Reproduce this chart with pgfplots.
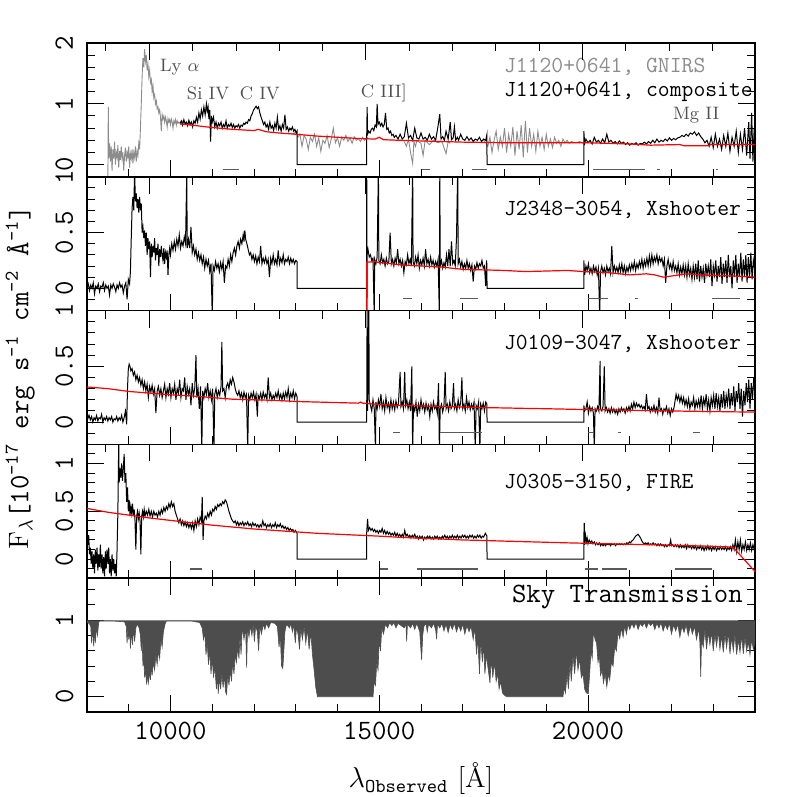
\documentclass[border=0pt]{standalone}
\usepackage{pgfplots}
\pgfplotsset{compat=1.18}
\definecolor{gnirs}{HTML}{8C8C8C}
\definecolor{skyc}{HTML}{4D4D4D}
\definecolor{dashc}{HTML}{5A5A5A}
\definecolor{lblc}{HTML}{505050}
\newcommand\tfont{\fontsize{11.5}{11.5}\selectfont\ttfamily}
\newcommand\lfont{\fontsize{9}{9}\selectfont\rmfamily}
\pgfplotsset{
 panel/.style={
  scale only axis, width=334pt, height=66.9pt,
  xmin=8000, xmax=24000,
  xtick={10000,15000,20000},
  minor xtick={9000,11000,12000,13000,14000,16000,17000,18000,19000,21000,22000,23000},
  xticklabels={},
  tick align=inside,
  major tick length=8.5pt, minor tick length=4pt,
  tick style={black, line width=0.5pt},
  axis line style={line width=0.8pt},
  ticklabel style={font=\fontsize{14}{14}\selectfont\ttfamily},
  yticklabel style={rotate=90, anchor=base, inner sep=0pt},
  yticklabel shift=7pt,
  /pgf/number format/assume math mode=true,
  /pgf/number format/1000 sep={},
  scaled ticks=false,
  clip mode=individual,
  unbounded coords=jump,
  no markers,
 },
 topticks/.style={
  scale only axis, width=334pt, height=66.9pt,
  xmin=8000, xmax=24000, ymin=0, ymax=1,
  axis x line*=top, axis y line=none,
  xtick={9492,14682,19872},
  minor xtick={8455,10531,11569,12606,13645,15719,16758,17796,18833,20909,21946,22985},
  xticklabels={}, scaled ticks=false, scaled x ticks=false,
  tick align=inside,
  major tick length=8.5pt, minor tick length=4pt,
  tick style={black, line width=0.5pt},
  axis line style={line width=0.8pt},
 },
 spec/.style={black, line width=0.5pt},
 model/.style={red, line width=0.6pt},
 dash/.style={dashc, line width=0.7pt},
}
\begin{document}
\begin{tikzpicture}
\useasboundingbox (-43.5pt,-377pt) rectangle (355pt,21.5pt);
% ---------------- Panel 1 : J1120+0641
\begin{axis}[panel, xtick pos=bottom, at={(0,0)}, anchor=north west, ymin=-0.2, ymax=2, ytick={0,1,2},
  minor ytick={-0.2,0.2,0.4,0.6,0.8,1.2,1.4,1.6,1.8}]
\addplot[gnirs, line width=0.45pt] coordinates {
(8500,-0.2)(8510,0.95)(8520,0.1)(8540,0.35)(8560,0.05)(8580,0.3)(8600,-0.1)(8620,0.25)(8640,0.1)(8660,0.38)(8680,0.0)(8700,0.2)(8720,0.12)(8740,0.32)(8760,-0.05)(8780,0.22)(8800,0.08)(8820,0.3)(8840,0.1)(8860,0.2)(8880,-0.1)(8900,0.15)(8920,0.28)(8940,0.05)(8960,0.2)(8980,0.12)(9000,0.3)(9020,-0.05)(9040,0.18)(9060,0.1)(9080,0.25)(9100,0.02)(9120,0.2)(9140,0.12)(9160,0.3)(9180,0.05)(9200,0.22)(9220,0.15)(9240,0.35)(9260,0.25)(9280,0.6)(9300,1.0)(9320,1.45)(9340,1.75)(9360,1.6)(9380,1.9)(9400,1.7)(9420,1.8)(9440,1.55)(9460,1.65)(9480,1.45)(9500,1.55)(9520,1.35)(9540,1.4)(9560,1.2)(9580,1.3)(9600,1.1)(9620,1.15)(9640,1.0)(9660,1.05)(9680,0.92)(9700,0.95)(9720,0.85)(9740,0.9)(9760,0.78)(9780,0.55)(9800,0.82)(9820,0.75)(9840,0.8)(9860,0.7)(9880,0.78)(9900,0.72)(9920,0.62)(9940,0.76)(9960,0.7)(9980,0.74)(10000,0.66)(10020,0.75)(10040,0.7)(10060,0.6)(10080,0.72)(10100,0.68)(10120,0.74)(10140,0.65)(10160,0.72)(10180,0.68)(10200,0.7)(10250,0.66)(10300,0.72)(10350,0.68)(10400,0.7)(10401,nan)
(12900,0.52)(12950,0.5)(13000,0.55)(13050,0.45)(13100,0.5)(13150,0.3)(13200,0.48)(13250,0.42)(13300,0.25)(13350,0.45)(13400,0.38)(13450,0.5)(13500,0.3)(13550,0.44)(13600,0.22)(13650,0.4)(13700,0.35)(13750,0.48)(13800,0.28)(13850,0.42)(13900,0.6)(13950,0.36)(14000,0.44)(14050,0.3)(14100,0.45)(14150,0.4)(14200,0.48)(14250,0.38)(14300,0.44)(14350,0.35)(14400,0.46)(14450,0.4)(14500,0.43)(14550,0.38)(14600,0.45)(14650,0.4)(14700,0.45)(14750,0.42)(14751,nan)
(15600,0.38)(15650,0.3)(15700,0.42)(15750,0.2)(15800,0.02)(15830,0.38)(15870,0.3)(15900,0.4)(16000,0.35)(16050,0.15)(16100,0.4)(16200,0.33)(16300,0.4)(16400,0.36)(16500,0.38)(16600,0.18)(16650,0.38)(16700,0.35)(16701,nan)
(17500,0.4)(17550,0.36)(17600,0.3)(17650,0.45)(17700,0.2)(17750,0.4)(17800,0.55)(17850,0.25)(17900,0.45)(17950,0.3)(18000,0.6)(18050,0.2)(18100,0.5)(18150,0.3)(18200,0.62)(18250,0.15)(18300,0.55)(18350,0.25)(18400,0.65)(18450,0.12)(18500,0.72)(18550,0.2)(18600,0.6)(18650,0.3)(18700,0.5)(18750,0.22)(18800,0.55)(18850,0.3)(18900,0.45)(18950,0.25)(19000,0.5)(19050,0.3)(19100,0.42)(19150,0.28)(19200,0.45)(19250,0.35)(19300,0.4)(19350,0.3)(19400,0.42)(19450,0.36)(19500,0.4)(19550,0.35)(19600,0.38)(19700,0.36)(19800,0.38)(19900,0.35)(19950,0.37)
};
\addplot[spec] coordinates {
(10230,0.68)(10260,0.72)(10290,0.65)(10320,0.74)(10350,0.67)(10380,0.7)(10410,0.64)(10440,0.73)(10470,0.66)(10500,0.7)(10530,0.62)(10560,0.72)(10590,0.68)(10620,0.78)(10650,0.7)(10680,0.85)(10710,0.75)(10740,0.9)(10770,0.8)(10800,0.95)(10830,0.82)(10860,1.0)(10880,0.88)(10900,0.95)(10920,0.75)(10940,0.9)(10960,0.38)(10980,0.8)(11000,0.7)(11030,0.78)(11060,0.62)(11090,0.7)(11120,0.6)(11150,0.68)(11180,0.64)(11210,0.7)(11240,0.6)(11270,0.66)(11300,0.62)(11330,0.72)(11360,0.6)(11390,0.66)(11420,0.63)(11450,0.68)(11480,0.61)(11510,0.66)(11540,0.6)(11570,0.64)(11600,0.62)(11630,0.66)(11660,0.6)(11690,0.65)(11720,0.63)(11750,0.68)(11780,0.66)(11810,0.7)(11840,0.68)(11870,0.74)(11900,0.72)(11930,0.8)(11960,0.84)(11990,0.9)(12020,0.93)(12050,0.96)(12080,0.92)(12110,0.95)(12140,0.85)(12170,0.78)(12200,0.72)(12230,0.66)(12260,0.7)(12290,0.62)(12320,0.66)(12350,0.58)(12380,0.7)(12410,0.6)(12440,0.64)(12470,0.56)(12500,0.68)(12530,0.6)(12560,0.78)(12590,0.58)(12620,0.64)(12650,0.55)(12680,0.66)(12710,0.6)(12740,0.82)(12770,0.58)(12800,0.62)(12830,0.55)(12860,0.6)(12890,0.57)(12920,0.62)(12950,0.55)(12980,0.58)(13010,0.52)(13030,0.55)(13031,0)(14699,0)(14700,0.5)(14710,0.95)(14720,0.5)(14750,0.55)(14780,0.52)(14810,0.58)(14840,0.6)(14870,0.56)(14900,0.65)(14930,0.62)(14950,1.0)(14970,0.66)(15000,0.7)(15030,0.64)(15060,0.68)(15090,0.62)(15120,0.66)(15150,0.85)(15180,0.58)(15210,0.6)(15240,0.52)(15270,0.55)(15300,0.48)(15330,0.5)(15360,0.45)(15400,0.48)(15450,0.42)(15500,0.5)(15550,0.42)(15600,0.46)(15650,0.68)(15700,0.44)(15750,0.48)(15800,0.4)(15850,0.6)(15900,0.44)(15950,0.42)(16000,0.52)(16050,0.42)(16100,0.45)(16150,0.4)(16200,0.5)(16250,0.42)(16300,0.46)(16350,0.4)(16400,0.6)(16450,0.83)(16480,0.42)(16520,0.46)(16560,0.4)(16600,0.55)(16650,0.42)(16700,0.7)(16730,0.41)(16770,0.44)(16800,0.62)(16830,0.4)(16870,0.45)(16900,0.4)(16950,0.5)(17000,0.42)(17050,0.4)(17100,0.46)(17150,0.4)(17200,0.44)(17250,0.38)(17300,0.42)(17350,0.4)(17400,0.45)(17450,0.38)(17500,0.42)(17550,0.4)(17580,0.5)(17581,0)(19899,0)(19900,0.55)(19920,0.35)(19950,0.42)(20000,0.36)(20050,0.4)(20100,0.34)(20150,0.45)(20200,0.37)(20250,0.4)(20300,0.35)(20350,0.42)(20400,0.36)(20450,0.5)(20500,0.37)(20550,0.4)(20600,0.35)(20650,0.38)(20700,0.34)(20750,0.39)(20800,0.35)(20850,0.37)(20900,0.33)(20950,0.36)(21000,0.32)(21050,0.35)(21100,0.33)(21150,0.36)(21200,0.32)(21250,0.35)(21300,0.34)(21350,0.37)(21400,0.34)(21450,0.38)(21500,0.35)(21550,0.4)(21600,0.36)(21650,0.42)(21700,0.37)(21750,0.4)(21800,0.38)(21850,0.42)(21900,0.39)(21950,0.44)(22000,0.4)(22050,0.43)(22100,0.41)(22150,0.44)(22200,0.45)(22250,0.48)(22300,0.46)(22350,0.5)(22400,0.47)(22450,0.52)(22500,0.5)(22550,0.54)(22600,0.48)(22650,0.52)(22700,0.46)(22750,0.42)(22800,0.36)(22850,0.4)(22900,0.3)(22950,0.45)(23000,0.28)(23050,0.5)(23100,0.3)(23150,0.42)(23200,0.25)(23250,0.48)(23300,0.3)(23350,0.52)(23400,0.22)(23450,0.45)(23500,0.3)(23550,0.55)(23600,0.2)(23650,0.5)(23700,0.25)(23750,0.6)(23800,0.15)(23850,0.7)(23880,0.1)(23920,0.85)(23950,0.05)(23980,0.6)(24000,0.3)
};
\addplot[model] coordinates {
(10230,0.67)(10500,0.65)(11000,0.61)(11500,0.58)(12000,0.56)(12100,0.58)(12300,0.54)(12600,0.52)(13000,0.5)(13500,0.47)(14000,0.45)(14500,0.43)(14900,0.42)(15000,0.45)(15100,0.41)(15500,0.4)(16000,0.39)(16500,0.38)(17000,0.37)(18000,0.36)(19000,0.36)(19900,0.36)(20500,0.35)(21000,0.34)(21500,0.32)(22200,0.33)(22300,0.31)(22850,0.31)(22950,0.33)(24000,0.33)
};
\addplot[dash] coordinates {
(11260,-0.08)(11640,-0.08)(11641,nan)(16020,-0.08)(16210,-0.08)(16211,nan)(17220,-0.08)(17580,-0.08)(17581,nan)(20120,-0.08)(21360,-0.08)(21361,nan)(21650,-0.08)(21720,-0.08)(21721,nan)(23060,-0.08)(23110,-0.08)
};
\node[anchor=west, text=lblc, font=\lfont] at (axis cs:9580,1.6) {Ly $\alpha$};
\node[text=lblc, font=\lfont] at (axis cs:10900,1.18) {Si IV};
\node[text=lblc, font=\lfont] at (axis cs:12140,1.18) {C IV};
\node[text=lblc, font=\lfont] at (axis cs:15110,1.18) {C III]};
\node[text=lblc, font=\lfont] at (axis cs:22590,0.82) {Mg II};
\node[anchor=west, text=gnirs, font=\tfont] at (axis cs:17820,1.61) {J1120+0641, GNIRS};
\node[anchor=west, font=\tfont] at (axis cs:17820,1.2) {J1120+0641, composite};
\end{axis}
\begin{axis}[topticks, at={(0,0)}, anchor=north west]
\end{axis}
% ---------------- Panel 2 : J2348-3054
\begin{axis}[panel, xtick pos=bottom, at={(0,-66.9pt)}, anchor=north west, ymin=-0.2, ymax=1, ytick={0,0.5,1},
  minor ytick={-0.1,0.1,0.2,0.3,0.4,0.6,0.7,0.8,0.9}]
\addplot[spec] coordinates {
(8000,0.0)(8030,0.04)(8060,-0.02)(8090,0.03)(8120,0.0)(8150,0.05)(8180,-0.05)(8210,0.02)(8240,0.0)(8270,0.04)(8300,-0.03)(8330,0.02)(8360,0.01)(8390,0.05)(8420,-0.02)(8450,0.03)(8480,0.0)(8510,0.02)(8540,-0.06)(8570,0.03)(8600,0.0)(8630,0.04)(8660,0.01)(8690,-0.03)(8720,0.03)(8750,0.0)(8780,0.05)(8810,0.01)(8840,0.03)(8870,-0.04)(8900,0.02)(8930,0.05)(8960,-0.1)(8990,0.08)(9020,0.04)(9040,0.15)(9060,0.45)(9080,0.72)(9100,0.82)(9120,0.7)(9140,1.05)(9160,0.78)(9180,0.85)(9200,0.72)(9220,0.8)(9240,0.68)(9260,0.82)(9280,0.7)(9300,0.76)(9320,0.5)(9340,0.55)(9360,0.45)(9380,0.52)(9400,0.38)(9420,0.5)(9440,0.3)(9460,0.45)(9480,0.35)(9500,0.42)(9520,0.1)(9540,0.4)(9560,0.28)(9580,0.38)(9600,0.32)(9620,0.45)(9640,0.25)(9660,0.36)(9680,0.3)(9700,0.4)(9720,0.2)(9740,0.35)(9760,0.28)(9780,0.38)(9800,0.3)(9820,0.25)(9840,0.36)(9860,0.22)(9880,0.32)(9900,0.28)(9920,0.34)(9940,0.12)(9960,0.3)(9980,0.36)(10000,0.3)(10030,0.4)(10060,0.34)(10090,0.42)(10120,0.35)(10150,0.44)(10180,0.38)(10210,0.48)(10240,0.36)(10270,0.42)(10300,0.38)(10330,0.46)(10360,0.4)(10390,1.05)(10400,0.36)(10430,0.44)(10460,0.36)(10490,0.55)(10520,0.32)(10550,0.38)(10580,0.3)(10610,0.35)(10640,0.26)(10670,0.32)(10700,0.25)(10730,0.3)(10760,0.22)(10790,0.28)(10820,0.18)(10850,0.26)(10880,0.2)(10910,0.25)(10940,0.15)(10970,0.22)(11000,-0.25)(11020,0.2)(11050,0.16)(11080,0.24)(11110,0.18)(11140,0.22)(11170,0.15)(11200,0.23)(11230,0.17)(11260,0.24)(11290,0.05)(11320,0.2)(11350,0.18)(11380,0.26)(11410,0.2)(11440,0.3)(11470,0.24)(11500,0.32)(11530,0.36)(11560,0.3)(11590,0.38)(11620,0.42)(11650,0.36)(11680,0.44)(11710,0.4)(11740,0.48)(11760,0.42)(11780,0.52)(11800,0.44)(11830,0.4)(11860,0.35)(11890,0.3)(11920,0.32)(11950,0.26)(11980,0.3)(12010,0.24)(12040,0.29)(12070,0.22)(12100,0.28)(12130,0.24)(12160,0.38)(12190,0.22)(12220,0.27)(12250,0.23)(12280,0.28)(12310,0.22)(12340,0.26)(12370,0.1)(12400,0.27)(12430,0.22)(12460,0.3)(12490,0.22)(12520,0.26)(12550,0.21)(12580,0.34)(12610,0.22)(12640,0.27)(12670,0.23)(12700,0.3)(12730,0.22)(12760,0.26)(12790,0.24)(12820,0.28)(12850,0.22)(12880,0.27)(12910,0.23)(12940,0.26)(12970,0.22)(13000,0.25)(13030,0.24)(13031,0)(14699,0)(14700,1.1)(14705,-0.25)(14710,0.3)(14730,0.35)(14760,0.28)(14790,0.3)(14820,0.25)(14850,0.27)(14880,-0.25)(14890,0.26)(14920,0.22)(14950,0.28)(14980,1.1)(14990,0.25)(15020,0.22)(15050,0.3)(15080,0.23)(15110,0.26)(15140,0.2)(15170,0.27)(15200,0.22)(15230,0.24)(15260,0.5)(15290,0.22)(15320,0.26)(15350,0.2)(15380,0.27)(15410,0.23)(15440,0.35)(15470,0.22)(15500,0.26)(15530,0.2)(15560,0.25)(15590,0.14)(15620,0.24)(15650,0.21)(15680,0.3)(15710,0.22)(15740,0.26)(15770,0.2)(15800,1.1)(15810,0.24)(15840,0.2)(15870,0.28)(15900,0.22)(15930,0.3)(15960,0.18)(15990,0.25)(16020,0.21)(16050,0.27)(16080,0.2)(16110,0.35)(16140,0.22)(16170,0.26)(16200,0.2)(16230,0.28)(16260,0.21)(16290,0.25)(16320,0.19)(16350,0.24)(16380,0.2)(16410,0.26)(16440,-0.25)(16450,1.1)(16460,0.2)(16490,0.25)(16520,0.18)(16550,0.23)(16580,0.19)(16610,0.3)(16640,0.2)(16670,0.35)(16700,0.2)(16730,0.42)(16760,0.22)(16790,0.25)(16820,0.2)(16850,0.45)(16880,1.1)(16890,0.22)(16920,0.26)(16950,0.19)(16980,0.24)(17010,0.17)(17040,0.22)(17070,0.18)(17100,0.25)(17130,0.18)(17160,0.22)(17190,0.16)(17220,0.21)(17250,0.06)(17280,0.2)(17310,0.17)(17340,0.23)(17370,0.18)(17400,0.22)(17430,0.2)(17460,0.25)(17490,0.18)(17520,0.2)(17550,0.02)(17570,0.25)(17580,0.2)(17581,0)(19899,0)(19900,0.25)(19920,0.12)(19950,0.2)(19980,0.16)(20010,0.22)(20040,0.14)(20070,0.18)(20100,0.13)(20130,0.2)(20160,0.15)(20190,0.19)(20220,0.12)(20250,0.18)(20280,-0.25)(20300,0.15)(20330,0.2)(20360,0.14)(20390,0.18)(20420,0.12)(20450,0.2)(20480,0.15)(20510,0.18)(20540,0.13)(20570,0.38)(20600,0.14)(20630,0.2)(20660,0.15)(20690,0.19)(20720,0.14)(20750,0.21)(20780,0.15)(20810,0.22)(20840,0.14)(20870,0.2)(20900,0.13)(20930,0.19)(20960,0.15)(20990,0.21)(21020,0.16)(21050,0.22)(21080,0.17)(21110,0.24)(21140,0.16)(21170,0.22)(21200,0.18)(21230,0.24)(21260,0.19)(21290,0.26)(21320,0.18)(21350,0.25)(21380,0.2)(21410,0.27)(21440,0.2)(21470,0.29)(21500,0.21)(21530,0.3)(21560,0.22)(21590,0.28)(21620,0.24)(21650,0.3)(21680,0.22)(21710,0.28)(21740,0.24)(21770,0.27)(21800,0.2)(21830,0.26)(21860,0.05)(21890,0.2)(21920,0.26)(21950,0.18)(21980,0.22)(22010,0.16)(22040,0.24)(22070,0.16)(22100,0.2)(22130,0.14)(22160,0.22)(22190,0.12)(22220,0.19)(22250,0.13)(22280,0.21)(22310,0.12)(22340,0.2)(22370,0.1)(22400,0.22)(22430,0.12)(22460,0.18)(22490,0.08)(22520,0.2)(22550,0.1)(22580,0.22)(22610,0.08)(22640,0.25)(22670,0.06)(22700,0.2)(22730,0.1)(22760,0.18)(22790,0.05)(22820,0.22)(22850,0.12)(22880,0.2)(22910,0.1)(22940,0.26)(22970,0.02)(23000,0.2)(23030,0.12)(23060,0.25)(23090,0.06)(23120,0.2)(23150,0.1)(23180,0.28)(23210,0.04)(23240,0.22)(23270,0.1)(23300,0.25)(23330,0.05)(23360,0.3)(23390,0.1)(23420,0.2)(23450,0.0)(23480,0.25)(23510,0.1)(23540,0.3)(23570,0.05)(23600,0.22)(23630,0.1)(23660,0.32)(23690,0.06)(23720,0.26)(23750,0.1)(23780,0.3)(23810,0.05)(23840,0.28)(23870,0.1)(23900,0.32)(23930,0.08)(23960,0.25)(24000,0.15)
};
\addplot[model] coordinates {
(14700,-0.25)(14701,0.235)(14800,0.235)(14900,0.24)(15000,0.23)(15200,0.225)(15500,0.21)(16000,0.2)(16500,0.19)(17000,0.17)(17500,0.165)(18000,0.16)(18500,0.15)(19000,0.155)(19500,0.16)(19900,0.15)(20500,0.14)(21000,0.12)(21400,0.13)(21600,0.12)(21800,0.1)(22000,0.11)(22370,0.13)(22700,0.12)(23000,0.115)(23500,0.11)(24000,0.1)
};
\addplot[dash] coordinates {
(15570,-0.09)(15780,-0.09)(15781,nan)(16930,-0.09)(17370,-0.09)(17371,nan)(20000,-0.09)(20480,-0.09)(20481,nan)(21130,-0.09)(21200,-0.09)(21201,nan)(22970,-0.09)(23640,-0.09)
};
\node[anchor=west, font=\tfont] at (axis cs:17820,0.70) {J2348\textendash3054, Xshooter};
\end{axis}
\begin{axis}[topticks, at={(0,-66.9pt)}, anchor=north west]
\end{axis}
% ---------------- Panel 3 : J0109-3047
\begin{axis}[panel, xtick pos=bottom, at={(0,-133.8pt)}, anchor=north west, ymin=-0.2, ymax=1, ytick={0,0.5,1},
  minor ytick={-0.1,0.1,0.2,0.3,0.4,0.6,0.7,0.8,0.9},
  ylabel={{\rmfamily F}$_{\lambda}$[10\textsuperscript{-17} erg s\textsuperscript{-1} cm\textsuperscript{-2} \AA\textsuperscript{-1}]},
  ylabel style={at={(axis description cs:-0.1,0.5)}, anchor=center, font=\fontsize{14}{14}\selectfont\ttfamily}]
\addplot[spec] coordinates {
(8000,0.12)(8020,0.03)(8050,0.06)(8080,0.02)(8110,0.05)(8140,0.0)(8170,0.04)(8200,0.02)(8230,0.06)(8260,0.01)(8290,0.04)(8320,0.03)(8350,0.07)(8380,0.0)(8410,0.04)(8440,0.02)(8470,0.05)(8500,0.01)(8530,0.04)(8560,0.02)(8590,0.05)(8620,0.0)(8650,0.03)(8680,0.02)(8710,0.05)(8740,0.01)(8770,0.04)(8800,0.02)(8830,0.06)(8860,0.0)(8890,0.04)(8920,0.1)(8950,-0.02)(8970,0.3)(8990,0.48)(9010,0.52)(9030,0.5)(9050,0.46)(9080,0.48)(9110,0.42)(9140,0.45)(9170,0.38)(9200,0.42)(9230,0.36)(9260,0.4)(9290,0.33)(9320,0.38)(9350,0.3)(9380,0.36)(9410,0.28)(9440,0.34)(9470,0.22)(9500,0.32)(9530,0.27)(9560,0.33)(9590,0.25)(9620,0.3)(9650,0.08)(9680,0.28)(9710,0.32)(9740,0.24)(9770,0.3)(9800,0.22)(9830,0.28)(9860,0.34)(9890,0.22)(9920,0.3)(9950,0.25)(9980,0.35)(10010,0.22)(10040,0.3)(10070,0.26)(10100,0.34)(10130,0.2)(10160,0.3)(10190,0.26)(10220,0.38)(10250,0.22)(10280,0.3)(10310,0.28)(10340,0.4)(10370,0.2)(10400,0.32)(10430,0.25)(10460,0.3)(10490,0.15)(10520,0.35)(10550,0.24)(10580,0.3)(10610,0.6)(10630,0.22)(10660,0.3)(10690,0.12)(10720,0.32)(10750,-0.25)(10770,0.28)(10800,0.22)(10830,0.3)(10860,0.25)(10890,0.35)(10920,0.22)(10950,0.28)(10980,0.2)(11010,0.3)(11040,-0.25)(11060,0.25)(11090,0.3)(11120,0.22)(11150,0.28)(11180,0.24)(11210,0.32)(11230,0.72)(11250,0.28)(11280,0.3)(11310,0.22)(11340,0.32)(11370,0.35)(11400,0.3)(11430,0.38)(11460,0.34)(11490,0.4)(11520,0.36)(11550,0.3)(11580,0.26)(11610,0.24)(11640,0.28)(11670,0.22)(11700,0.26)(11730,0.2)(11760,0.27)(11790,0.22)(11820,0.25)(11850,-0.25)(11870,0.24)(11900,0.2)(11930,0.26)(11960,0.22)(11990,0.27)(12020,0.2)(12050,0.25)(12080,0.05)(12100,0.24)(12130,0.21)(12160,0.26)(12190,0.2)(12220,0.27)(12250,0.22)(12280,0.25)(12310,0.2)(12340,0.4)(12370,0.22)(12400,0.26)(12430,0.2)(12460,0.24)(12490,0.21)(12520,0.26)(12550,0.22)(12580,0.28)(12610,0.21)(12640,0.25)(12670,0.2)(12700,0.26)(12730,0.21)(12760,0.27)(12790,0.22)(12820,0.3)(12850,0.2)(12880,0.26)(12910,0.22)(12940,0.28)(12970,0.21)(13000,0.26)(13030,0.23)(13031,0)(14699,0)(14700,0.15)(14710,1.1)(14720,0.1)(14750,1.1)(14760,0.2)(14790,0.15)(14820,0.1)(14850,0.2)(14880,0.12)(14910,-0.25)(14920,0.18)(14950,0.12)(14980,0.2)(15010,0.14)(15040,0.25)(15070,0.12)(15100,0.18)(15130,0.1)(15160,0.22)(15190,0.13)(15220,0.17)(15250,0.1)(15280,0.2)(15310,0.12)(15340,0.18)(15370,0.11)(15400,0.19)(15430,0.13)(15460,0.17)(15500,0.45)(15520,0.14)(15550,0.18)(15580,0.12)(15610,0.45)(15630,0.15)(15660,0.2)(15690,0.12)(15720,0.18)(15750,0.1)(15780,0.5)(15800,-0.25)(15820,0.14)(15850,0.1)(15880,0.18)(15910,0.05)(15940,0.16)(15970,0.1)(16000,0.2)(16030,0.12)(16060,0.16)(16090,0.09)(16120,0.17)(16150,0.11)(16180,0.15)(16210,0.05)(16240,0.16)(16270,0.1)(16300,0.18)(16330,0.12)(16360,0.15)(16390,0.08)(16420,0.35)(16440,-0.25)(16460,0.12)(16490,0.16)(16520,0.09)(16550,0.15)(16580,0.45)(16600,0.12)(16630,0.16)(16660,0.1)(16690,0.18)(16720,0.12)(16750,0.15)(16780,0.35)(16800,0.12)(16830,0.16)(16860,0.1)(16890,0.2)(16920,0.13)(16950,0.17)(16980,0.4)(17000,0.12)(17030,0.16)(17060,0.1)(17090,0.22)(17120,0.13)(17150,0.18)(17180,0.11)(17210,0.16)(17240,0.12)(17270,0.18)(17300,-0.25)(17320,0.15)(17350,0.12)(17380,0.18)(17410,-0.25)(17430,0.16)(17460,0.12)(17490,0.17)(17520,0.1)(17550,0.18)(17580,0.16)(17581,0)(19899,0)(19900,0.15)(19920,0.1)(19950,0.12)(19980,0.18)(20010,0.08)(20040,0.14)(20070,0.1)(20100,0.13)(20130,0.08)(20150,-0.25)(20170,0.12)(20200,0.1)(20230,0.14)(20260,0.1)(20290,0.55)(20300,0.12)(20330,0.1)(20360,0.14)(20390,0.5)(20410,0.1)(20440,0.13)(20470,0.09)(20500,0.12)(20530,0.08)(20560,0.13)(20590,0.09)(20620,0.12)(20650,0.08)(20680,0.11)(20710,0.07)(20740,0.12)(20770,0.09)(20800,0.13)(20830,0.1)(20860,0.12)(20890,0.08)(20920,0.13)(20950,0.1)(20980,0.14)(21010,0.1)(21040,0.16)(21070,0.12)(21100,0.18)(21130,0.13)(21160,0.17)(21190,0.14)(21220,0.16)(21250,0.13)(21280,0.15)(21310,0.12)(21340,0.14)(21370,0.11)(21400,0.25)(21430,0.12)(21460,0.14)(21490,0.09)(21520,0.13)(21550,0.1)(21580,0.15)(21610,0.09)(21640,0.13)(21670,0.08)(21700,0.22)(21730,0.1)(21760,0.12)(21790,0.07)(21820,0.12)(21850,0.1)(21880,0.14)(21910,0.08)(21940,0.12)(21970,0.06)(22000,0.12)(22030,0.09)(22060,0.13)(22090,0.2)(22110,0.25)(22140,0.2)(22170,0.24)(22200,0.18)(22230,0.23)(22260,0.17)(22290,0.22)(22320,0.15)(22350,0.2)(22380,0.14)(22410,0.21)(22440,0.12)(22470,0.18)(22500,0.15)(22530,0.22)(22560,0.12)(22590,0.19)(22620,0.14)(22650,0.2)(22680,0.13)(22710,0.24)(22740,0.12)(22770,0.21)(22800,0.15)(22830,0.25)(22860,0.12)(22890,0.2)(22920,0.1)(22950,0.22)(22980,0.15)(23010,0.24)(23040,0.12)(23070,0.26)(23100,0.14)(23130,0.22)(23160,0.1)(23190,0.25)(23220,0.13)(23250,0.28)(23280,0.12)(23310,0.24)(23340,0.16)(23370,0.3)(23400,0.12)(23430,0.26)(23460,0.15)(23490,0.32)(23520,0.1)(23550,0.28)(23580,0.18)(23610,0.35)(23640,0.12)(23670,0.3)(23700,0.05)(23730,0.28)(23760,0.15)(23790,0.35)(23820,0.18)(23850,0.38)(23880,0.12)(23910,0.35)(23940,0.2)(23970,0.4)(24000,0.25)
};
\addplot[model] coordinates {
(8000,0.315)(8500,0.3)(9000,0.275)(9500,0.26)(10000,0.245)(10500,0.235)(11000,0.22)(11500,0.205)(12000,0.2)(12500,0.195)(13000,0.185)(13500,0.18)(14000,0.175)(14500,0.17)(14550,0.18)(14600,0.17)(15000,0.158)(15500,0.15)(16000,0.145)(16500,0.14)(17000,0.135)(17500,0.13)(18000,0.127)(18500,0.123)(19000,0.12)(19500,0.116)(19900,0.113)(20500,0.11)(21000,0.106)(21500,0.103)(22000,0.1)(22500,0.097)(23000,0.095)(23500,0.092)(24000,0.09)
};
\addplot[dash] coordinates {
(15330,-0.095)(15500,-0.095)(15501,nan)(16450,-0.095)(17460,-0.095)(17461,nan)(20000,-0.095)(20120,-0.095)(20121,nan)(20720,-0.095)(20800,-0.095)(20801,nan)(22510,-0.095)(22680,-0.095)
};
\node[anchor=west, font=\tfont] at (axis cs:17820,0.705) {J0109\textendash3047, Xshooter};
\end{axis}
\begin{axis}[topticks, at={(0,-133.8pt)}, anchor=north west]
\end{axis}
% ---------------- Panel 4 : J0305-3150
\begin{axis}[panel, xtick pos=bottom, at={(0,-200.7pt)}, anchor=north west, ymin=-0.2, ymax=1.2, ytick={0,0.5,1},
  minor ytick={-0.1,0.1,0.2,0.3,0.4,0.6,0.7,0.8,0.9,1.1}]
\addplot[spec] coordinates {
(8000,0.3)(8020,0.15)(8040,0.25)(8060,0.05)(8080,0.12)(8100,-0.05)(8120,0.08)(8140,-0.1)(8160,0.05)(8180,-0.15)(8200,0.1)(8220,-0.05)(8240,0.12)(8260,-0.12)(8280,0.05)(8300,-0.08)(8320,0.15)(8340,-0.1)(8360,0.05)(8380,-0.15)(8400,0.02)(8420,-0.18)(8440,0.08)(8460,-0.1)(8480,0.1)(8500,-0.05)(8520,0.12)(8540,-0.15)(8560,0.0)(8580,-0.18)(8600,0.05)(8620,-0.12)(8640,0.0)(8660,-0.15)(8680,-0.05)(8700,-0.18)(8720,0.1)(8740,0.5)(8760,1.25)(8770,0.8)(8790,0.95)(8810,0.85)(8830,1.0)(8850,0.82)(8870,0.95)(8890,1.1)(8910,0.8)(8930,0.9)(8950,0.6)(8970,0.75)(8990,0.5)(9010,0.62)(9030,0.45)(9050,0.55)(9070,0.48)(9090,0.58)(9110,0.45)(9130,0.52)(9150,0.4)(9170,0.1)(9190,0.45)(9210,0.5)(9230,0.42)(9250,0.48)(9270,0.4)(9290,0.05)(9310,0.45)(9330,0.5)(9350,0.44)(9370,0.52)(9390,0.45)(9420,0.5)(9450,0.46)(9480,0.52)(9510,0.45)(9540,0.5)(9570,0.44)(9600,0.5)(9630,0.46)(9660,0.48)(9690,0.44)(9720,0.5)(9750,0.46)(9780,0.52)(9810,0.48)(9840,0.54)(9870,0.5)(9900,0.55)(9930,0.52)(9960,0.58)(9990,0.54)(10020,0.6)(10050,0.55)(10080,0.58)(10110,0.5)(10140,0.46)(10170,0.42)(10200,0.38)(10230,0.42)(10260,0.36)(10290,0.4)(10320,0.35)(10350,0.39)(10380,0.34)(10410,0.38)(10440,0.33)(10470,0.37)(10500,0.32)(10530,0.38)(10560,0.3)(10590,0.4)(10620,0.34)(10650,0.42)(10680,0.36)(10710,0.44)(10740,0.4)(10760,0.65)(10780,0.2)(10800,0.4)(10830,0.45)(10860,0.42)(10890,0.48)(10920,0.44)(10950,0.5)(10980,0.46)(11010,0.52)(11040,0.5)(11070,0.55)(11100,0.52)(11130,0.57)(11160,0.55)(11190,0.58)(11220,0.56)(11250,0.6)(11280,0.58)(11310,0.62)(11340,0.6)(11370,0.55)(11400,0.5)(11430,0.46)(11460,0.42)(11490,0.4)(11520,0.38)(11550,0.4)(11580,0.36)(11610,0.39)(11640,0.35)(11670,0.38)(11700,0.36)(11730,0.39)(11760,0.35)(11790,0.38)(11820,0.36)(11850,0.39)(11880,0.35)(11910,0.37)(11940,0.34)(11970,0.38)(12000,0.35)(12030,0.37)(12060,0.34)(12090,0.36)(12120,0.33)(12150,0.36)(12180,0.34)(12210,0.4)(12240,0.35)(12270,0.37)(12300,0.33)(12330,0.36)(12360,0.34)(12390,0.37)(12420,0.33)(12450,0.36)(12480,0.34)(12510,0.38)(12540,0.33)(12570,0.36)(12600,0.34)(12630,0.37)(12660,0.33)(12690,0.35)(12720,0.32)(12750,0.34)(12780,0.31)(12810,0.33)(12840,0.3)(12870,0.32)(12900,0.3)(12930,0.31)(12960,0.28)(12990,0.3)(13030,0.27)(13031,0)(14699,0)(14700,0.28)(14720,0.42)(14740,0.3)(14770,0.33)(14800,0.3)(14830,0.32)(14860,0.29)(14890,0.31)(14920,0.28)(14950,0.3)(14980,0.27)(15010,0.3)(15040,0.28)(15070,0.32)(15100,0.27)(15130,0.3)(15160,0.26)(15190,0.29)(15220,0.26)(15250,0.28)(15280,0.25)(15310,0.27)(15340,0.25)(15370,0.28)(15400,0.24)(15430,0.27)(15460,0.24)(15490,0.26)(15520,0.23)(15550,0.26)(15580,0.23)(15610,0.3)(15640,0.24)(15670,0.26)(15700,0.23)(15730,0.25)(15760,0.22)(15790,0.25)(15820,0.23)(15850,0.26)(15880,0.22)(15910,0.24)(15940,0.21)(15970,0.24)(16000,0.22)(16030,0.24)(16060,0.2)(16090,0.23)(16120,0.21)(16150,0.24)(16180,0.22)(16210,0.24)(16240,0.21)(16270,0.23)(16300,0.21)(16330,0.24)(16360,0.22)(16390,0.24)(16420,0.21)(16450,0.23)(16480,0.21)(16510,0.24)(16540,0.22)(16570,0.25)(16600,0.22)(16630,0.24)(16660,0.21)(16690,0.24)(16720,0.22)(16750,0.25)(16780,0.22)(16810,0.24)(16840,0.22)(16870,0.25)(16900,0.22)(16930,0.24)(16960,0.22)(16990,0.25)(17020,0.23)(17050,0.25)(17080,0.22)(17110,0.24)(17140,0.22)(17170,0.25)(17200,0.23)(17230,0.25)(17260,0.22)(17290,0.24)(17320,0.22)(17350,0.25)(17380,0.23)(17410,0.25)(17440,0.22)(17470,0.24)(17500,0.23)(17540,0.27)(17580,0.24)(17581,0)(19899,0)(19900,0.22)(19910,0.38)(19920,0.15)(19940,0.25)(19960,0.18)(19980,0.22)(20000,0.16)(20030,0.2)(20060,0.17)(20090,0.19)(20120,0.16)(20150,0.18)(20180,0.15)(20210,0.17)(20240,0.15)(20270,0.17)(20300,0.14)(20330,0.16)(20360,0.14)(20390,0.16)(20420,0.14)(20450,0.16)(20480,0.15)(20510,0.16)(20540,0.14)(20570,0.16)(20600,0.15)(20630,0.16)(20660,0.14)(20690,0.16)(20720,0.15)(20750,0.16)(20780,0.15)(20810,0.16)(20840,0.15)(20870,0.16)(20900,0.15)(20930,0.17)(20960,0.16)(20990,0.18)(21020,0.17)(21050,0.19)(21080,0.2)(21110,0.22)(21140,0.24)(21170,0.25)(21200,0.26)(21230,0.24)(21260,0.22)(21290,0.19)(21320,0.17)(21350,0.16)(21380,0.17)(21410,0.16)(21440,0.17)(21470,0.15)(21500,0.16)(21530,0.15)(21560,0.17)(21590,0.15)(21620,0.16)(21650,0.14)(21680,0.16)(21710,0.14)(21740,0.16)(21770,0.14)(21800,0.15)(21830,0.13)(21860,0.15)(21890,0.13)(21920,0.15)(21950,0.14)(21980,0.2)(22000,0.14)(22030,0.15)(22060,0.13)(22090,0.15)(22120,0.13)(22150,0.15)(22180,0.12)(22210,0.15)(22240,0.12)(22270,0.14)(22300,0.12)(22330,0.15)(22360,0.11)(22390,0.15)(22420,0.12)(22450,0.14)(22480,0.11)(22510,0.14)(22540,0.11)(22570,0.14)(22600,0.1)(22630,0.13)(22660,0.11)(22690,0.14)(22720,0.1)(22750,0.13)(22780,0.09)(22810,0.13)(22840,0.1)(22870,0.14)(22900,0.1)(22930,0.13)(22960,0.09)(22990,0.13)(23020,0.1)(23050,0.13)(23080,0.09)(23110,0.12)(23140,0.1)(23170,0.13)(23200,0.1)(23230,0.12)(23260,0.1)(23290,0.13)(23320,0.09)(23350,0.12)(23380,0.1)(23410,0.13)(23440,0.09)(23470,0.15)(23500,0.1)(23530,0.2)(23560,0.08)(23590,0.18)(23620,0.1)(23650,0.2)(23680,0.08)(23710,0.15)(23740,0.1)(23770,0.18)(23800,0.09)(23830,0.15)(23860,0.1)(23890,0.17)(23920,0.09)(23950,0.15)(23980,0.1)(24000,0.14)
};
\addplot[model] coordinates {
(8000,0.53)(8500,0.49)(9000,0.46)(9500,0.43)(10000,0.405)(10500,0.38)(11000,0.355)(11500,0.335)(12000,0.315)(12500,0.3)(13000,0.285)(13500,0.27)(14000,0.26)(14500,0.25)(15000,0.24)(15500,0.228)(16000,0.218)(16500,0.21)(17000,0.2)(17500,0.195)(18000,0.188)(18500,0.182)(19000,0.176)(19500,0.17)(20000,0.165)(20500,0.16)(21000,0.155)(21500,0.15)(22000,0.145)(22500,0.14)(23000,0.133)(23470,0.126)(24000,-0.13)
};
\addplot[dash] coordinates {
(10470,-0.105)(10750,-0.105)(10751,nan)(15020,-0.105)(15210,-0.105)(15211,nan)(15900,-0.105)(17370,-0.105)(17371,nan)(19930,-0.105)(20240,-0.105)(20241,nan)(20340,-0.105)(20930,-0.105)(20931,nan)(22080,-0.105)(22970,-0.105)
};
\node[anchor=west, font=\tfont] at (axis cs:17820,0.80) {J0305\textendash3150, FIRE};
\end{axis}
\begin{axis}[topticks, at={(0,-200.7pt)}, anchor=north west]
\end{axis}
% ---------------- Panel 5 : Sky transmission
\begin{axis}[panel, at={(0,-267.6pt)}, anchor=north west, ymin=-0.2, ymax=1.55, ytick={0,1},
  minor ytick={0.2,0.4,0.6,0.8,1.2,1.4},
  xticklabels={10000,15000,20000},
  xticklabel style={anchor=base, inner sep=0pt},
  xticklabel shift=13.5pt,
  xlabel={$\lambda$\textsubscript{\ttfamily Observed} {\rmfamily [\AA]}},
  xlabel style={at={(axis description cs:0.5,-0.567)}, anchor=base, font=\fontsize{14}{14}\selectfont}]
\addplot[draw=skyc, fill=skyc, line width=0.3pt] coordinates {
(8000,1.0)(8000,0.97)(8050,0.96)(8090,0.92)(8110,0.7)(8130,0.9)(8160,0.66)(8180,0.88)(8200,0.7)(8220,0.9)(8250,0.8)(8280,0.97)(8300,0.99)(8600,0.99)(8900,0.98)(8940,0.92)(8960,0.7)(8980,0.9)(9000,0.75)(9020,0.9)(9040,0.63)(9060,0.85)(9090,0.68)(9110,0.9)(9140,0.72)(9170,0.9)(9200,0.95)(9250,0.9)(9280,0.8)(9300,0.6)(9320,0.75)(9340,0.4)(9360,0.5)(9380,0.25)(9400,0.35)(9430,0.16)(9450,0.3)(9470,0.18)(9500,0.32)(9520,0.22)(9540,0.4)(9560,0.28)(9590,0.45)(9620,0.35)(9650,0.55)(9680,0.42)(9710,0.6)(9740,0.5)(9770,0.75)(9800,0.65)(9830,0.85)(9870,0.95)(9900,0.99)(10500,0.99)(10700,0.97)(10760,0.9)(10790,0.75)(10820,0.85)(10850,0.55)(10880,0.7)(10910,0.42)(10940,0.6)(10970,0.3)(11000,0.5)(11030,0.25)(11060,0.4)(11100,0.1)(11120,0.3)(11144,0.04)(11170,0.25)(11200,0.1)(11230,0.3)(11260,0.12)(11290,0.28)(11320,0.06)(11344,0.03)(11370,0.3)(11400,0.15)(11430,0.35)(11460,0.2)(11490,0.45)(11520,0.3)(11550,0.55)(11580,0.45)(11610,0.65)(11640,0.5)(11664,0.8)(11690,0.55)(11720,0.92)(11760,0.75)(11800,0.9)(11823,0.38)(11845,0.9)(11880,0.78)(11910,0.93)(11950,0.8)(11980,0.95)(12010,0.72)(12040,0.93)(12080,0.85)(12110,0.6)(12140,0.92)(12180,0.82)(12220,0.95)(12260,0.88)(12300,0.96)(12350,0.9)(12400,0.97)(12500,0.96)(12560,0.92)(12600,0.65)(12630,0.8)(12660,0.4)(12690,0.37)(12710,0.55)(12740,0.85)(12780,0.95)(12850,0.9)(12880,0.96)(12920,0.85)(12950,0.95)(12990,0.7)(13020,0.92)(13060,0.8)(13090,0.62)(13120,0.9)(13160,0.75)(13200,0.92)(13240,0.7)(13280,0.88)(13320,0.62)(13360,0.85)(13400,0.55)(13440,0.35)(13480,0.12)(13520,0.0)(14850,0.0)(14880,0.2)(14910,0.15)(14940,0.45)(14970,0.35)(15000,0.75)(15030,0.6)(15060,0.9)(15100,0.82)(15150,0.95)(15200,0.9)(15250,0.97)(15300,0.93)(15350,0.97)(15400,0.9)(15450,0.96)(15500,0.94)(15600,0.9)(15640,0.95)(15656,0.72)(15675,0.95)(15750,0.9)(15800,0.96)(15850,0.88)(15900,0.96)(15970,0.85)(16000,0.6)(16015,0.48)(16040,0.8)(16070,0.92)(16120,0.96)(16150,0.85)(16180,0.95)(16250,0.9)(16300,0.96)(16350,0.88)(16374,0.75)(16395,0.95)(16450,0.9)(16500,0.96)(16550,0.86)(16600,0.95)(16650,0.84)(16700,0.95)(16750,0.88)(16800,0.96)(16850,0.85)(16900,0.94)(16950,0.86)(17000,0.95)(17050,0.82)(17100,0.93)(17150,0.85)(17200,0.92)(17250,0.75)(17290,0.9)(17332,0.55)(17360,0.8)(17400,0.3)(17430,0.75)(17470,0.45)(17500,0.7)(17530,0.3)(17570,0.55)(17600,0.4)(17652,0.18)(17680,0.5)(17720,0.25)(17760,0.45)(17800,0.2)(17840,0.3)(17870,0.1)(17910,0.2)(17950,0.05)(18000,0.02)(18050,0.0)(19400,0.0)(19430,0.12)(19460,0.05)(19500,0.3)(19530,0.1)(19570,0.45)(19600,0.2)(19640,0.55)(19680,0.3)(19720,0.6)(19760,0.35)(19800,0.5)(19840,0.25)(19880,0.3)(19920,0.1)(19960,0.05)(20006,0.04)(20040,0.3)(20070,0.6)(20100,0.5)(20130,0.85)(20170,0.75)(20206,0.7)(20240,0.45)(20270,0.55)(20300,0.28)(20340,0.35)(20370,0.18)(20410,0.3)(20450,0.13)(20490,0.3)(20520,0.22)(20560,0.45)(20600,0.4)(20640,0.65)(20680,0.6)(20720,0.85)(20760,0.76)(20800,0.9)(20840,0.78)(20880,0.93)(20920,0.82)(20960,0.95)(21000,0.88)(21050,0.96)(21100,0.9)(21150,0.97)(21200,0.88)(21250,0.96)(21300,0.92)(21350,0.97)(21400,0.9)(21450,0.97)(21500,0.93)(21550,0.97)(21600,0.88)(21650,0.96)(21700,0.9)(21750,0.97)(21800,0.86)(21850,0.95)(21900,0.88)(21950,0.96)(22000,0.82)(22050,0.94)(22100,0.86)(22150,0.95)(22200,0.78)(22250,0.92)(22300,0.84)(22350,0.94)(22400,0.8)(22450,0.93)(22500,0.82)(22550,0.92)(22600,0.75)(22650,0.9)(22681,0.7)(22700,0.26)(22720,0.75)(22760,0.65)(22800,0.88)(22840,0.62)(22880,0.85)(22920,0.68)(22960,0.85)(23000,0.6)(23040,0.82)(23080,0.66)(23120,0.86)(23160,0.62)(23200,0.8)(23240,0.58)(23280,0.82)(23320,0.64)(23360,0.85)(23400,0.56)(23440,0.78)(23480,0.6)(23520,0.82)(23560,0.55)(23600,0.75)(23640,0.58)(23680,0.8)(23720,0.56)(23760,0.78)(23800,0.6)(23840,0.72)(23880,0.55)(23920,0.75)(23960,0.62)(24000,0.7)(24000,1.0)
};
\node[anchor=west, font=\fontsize{14}{14}\selectfont\ttfamily] at (axis cs:18011,1.30) {Sky Transmission};
\end{axis}
\end{tikzpicture}
\end{document}
